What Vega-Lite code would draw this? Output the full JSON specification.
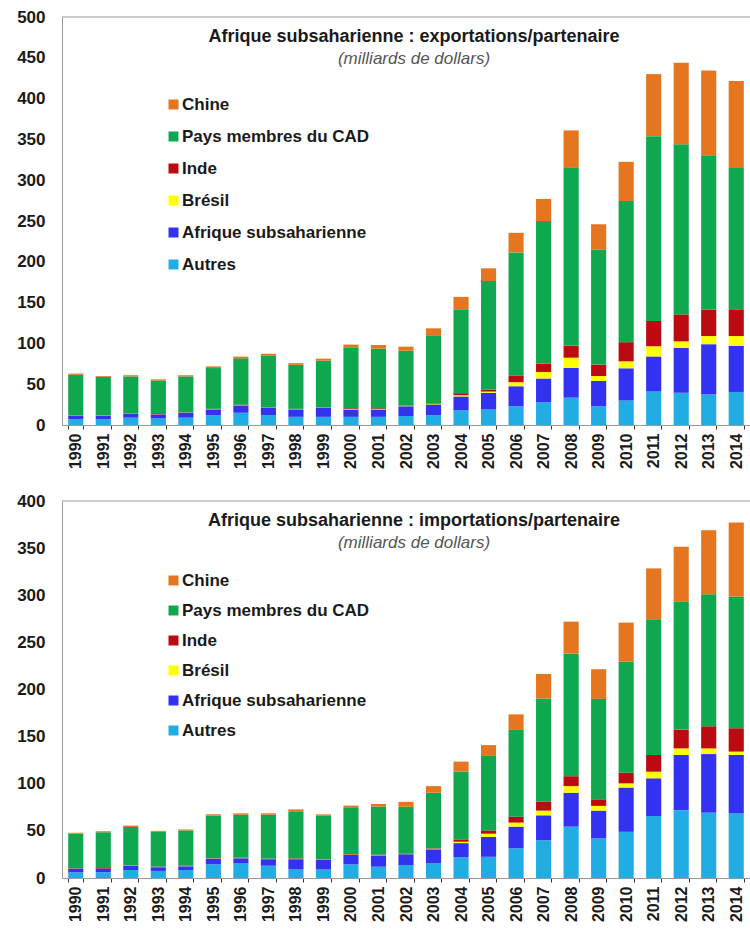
{
  "$schema": "https://vega.github.io/schema/vega-lite/v6.json",
  "padding": {"top": 8, "left": 16, "right": 0, "bottom": 4},
  "spacing": 23,
  "config": {
    "font": "Liberation Sans",
    "view": {"stroke": null},
    "axis": {"grid": false, "domainColor": "#999999", "labelColor": "#1a1a1a", "labelFontWeight": "bold", "title": null},
    "axisX": {"labelAngle": -90, "labelFontSize": 16, "tickBand": "extent", "ticks": true, "tickSize": 4, "tickColor": "#333333", "labelPadding": 4},
    "axisY": {"labelFontSize": 17, "ticks": false, "labelPadding": 17},
    "legend": {"orient": "none", "title": null, "symbolType": "square", "symbolSize": 100, "symbolStrokeWidth": 0, "labelFontSize": 17, "labelFontWeight": "bold", "labelColor": "#1a1a1a", "labelOffset": 0, "labelLimit": 400, "padding": 0},
    "title": {"frame": "group", "anchor": "middle", "fontSize": 18, "fontWeight": "bold", "color": "#1a1a1a", "subtitleFontSize": 17, "subtitleFontStyle": "italic", "subtitleColor": "#555555", "subtitlePadding": 5}
  },
  "datasets": {
    "rangs": [
      {"partenaire": "Autres", "rang": 1},
      {"partenaire": "Afrique subsaharienne", "rang": 2},
      {"partenaire": "Brésil", "rang": 3},
      {"partenaire": "Inde", "rang": 4},
      {"partenaire": "Pays membres du CAD", "rang": 5},
      {"partenaire": "Chine", "rang": 6}
    ],
    "exp": [
      {"annee": "1990", "Autres": 7, "Afrique subsaharienne": 4, "Brésil": 0.2, "Inde": 0.3, "Pays membres du CAD": 50, "Chine": 1.5},
      {"annee": "1991", "Autres": 7, "Afrique subsaharienne": 4, "Brésil": 0.2, "Inde": 0.3, "Pays membres du CAD": 47.5, "Chine": 1},
      {"annee": "1992", "Autres": 9, "Afrique subsaharienne": 5, "Brésil": 0.2, "Inde": 0.3, "Pays membres du CAD": 45, "Chine": 1.5},
      {"annee": "1993", "Autres": 8, "Afrique subsaharienne": 5, "Brésil": 0.2, "Inde": 0.3, "Pays membres du CAD": 41, "Chine": 1.5},
      {"annee": "1994", "Autres": 9, "Afrique subsaharienne": 6, "Brésil": 0.2, "Inde": 0.3, "Pays membres du CAD": 44, "Chine": 1.5},
      {"annee": "1995", "Autres": 12, "Afrique subsaharienne": 7, "Brésil": 0.3, "Inde": 0.5, "Pays membres du CAD": 50, "Chine": 2},
      {"annee": "1996", "Autres": 15, "Afrique subsaharienne": 9, "Brésil": 0.3, "Inde": 0.5, "Pays membres du CAD": 57, "Chine": 2},
      {"annee": "1997", "Autres": 12, "Afrique subsaharienne": 9, "Brésil": 0.3, "Inde": 0.5, "Pays membres du CAD": 63, "Chine": 2.5},
      {"annee": "1998", "Autres": 10, "Afrique subsaharienne": 9, "Brésil": 0.3, "Inde": 0.5, "Pays membres du CAD": 54, "Chine": 2},
      {"annee": "1999", "Autres": 10, "Afrique subsaharienne": 11, "Brésil": 0.3, "Inde": 0.5, "Pays membres du CAD": 57, "Chine": 2.5},
      {"annee": "2000", "Autres": 10, "Afrique subsaharienne": 9, "Brésil": 0.5, "Inde": 1, "Pays membres du CAD": 74, "Chine": 4},
      {"annee": "2001", "Autres": 10, "Afrique subsaharienne": 9, "Brésil": 0.5, "Inde": 1, "Pays membres du CAD": 73, "Chine": 4.5},
      {"annee": "2002", "Autres": 11, "Afrique subsaharienne": 12, "Brésil": 0.5, "Inde": 0.5, "Pays membres du CAD": 67, "Chine": 5},
      {"annee": "2003", "Autres": 12, "Afrique subsaharienne": 13, "Brésil": 0.5, "Inde": 0.5, "Pays membres du CAD": 84, "Chine": 8.5},
      {"annee": "2004", "Autres": 18, "Afrique subsaharienne": 17, "Brésil": 1.5, "Inde": 2.5, "Pays membres du CAD": 103, "Chine": 15},
      {"annee": "2005", "Autres": 19, "Afrique subsaharienne": 20.5, "Brésil": 1.5, "Inde": 2.5, "Pays membres du CAD": 133, "Chine": 15.5},
      {"annee": "2006", "Autres": 23, "Afrique subsaharienne": 24.5, "Brésil": 5, "Inde": 8, "Pays membres du CAD": 151, "Chine": 24},
      {"annee": "2007", "Autres": 28, "Afrique subsaharienne": 29, "Brésil": 8, "Inde": 10, "Pays membres du CAD": 175, "Chine": 27},
      {"annee": "2008", "Autres": 33.5, "Afrique subsaharienne": 36.5, "Brésil": 12.5, "Inde": 14.5, "Pays membres du CAD": 218, "Chine": 46},
      {"annee": "2009", "Autres": 23, "Afrique subsaharienne": 31, "Brésil": 6, "Inde": 14, "Pays membres du CAD": 141, "Chine": 31},
      {"annee": "2010", "Autres": 30, "Afrique subsaharienne": 39.5, "Brésil": 8.5, "Inde": 23.5, "Pays membres du CAD": 173, "Chine": 48},
      {"annee": "2011", "Autres": 41, "Afrique subsaharienne": 43, "Brésil": 12.5, "Inde": 31, "Pays membres du CAD": 226.5, "Chine": 76},
      {"annee": "2012", "Autres": 39.5, "Afrique subsaharienne": 55, "Brésil": 8, "Inde": 33, "Pays membres du CAD": 208.5, "Chine": 100},
      {"annee": "2013", "Autres": 37.5, "Afrique subsaharienne": 61.5, "Brésil": 10, "Inde": 32.5, "Pays membres du CAD": 189, "Chine": 104},
      {"annee": "2014", "Autres": 40.5, "Afrique subsaharienne": 56.5, "Brésil": 12, "Inde": 32, "Pays membres du CAD": 174, "Chine": 106.5}
    ],
    "imp": [
      {"annee": "1990", "Autres": 6, "Afrique subsaharienne": 4, "Brésil": 0.2, "Inde": 0.3, "Pays membres du CAD": 36.5, "Chine": 1},
      {"annee": "1991", "Autres": 6, "Afrique subsaharienne": 4, "Brésil": 0.2, "Inde": 0.3, "Pays membres du CAD": 38, "Chine": 1},
      {"annee": "1992", "Autres": 8.5, "Afrique subsaharienne": 4.5, "Brésil": 0.3, "Inde": 0.3, "Pays membres du CAD": 40.5, "Chine": 1.5},
      {"annee": "1993", "Autres": 7.5, "Afrique subsaharienne": 4, "Brésil": 0.2, "Inde": 0.3, "Pays membres du CAD": 37, "Chine": 1},
      {"annee": "1994", "Autres": 8.5, "Afrique subsaharienne": 4, "Brésil": 0.2, "Inde": 0.3, "Pays membres du CAD": 37.5, "Chine": 1},
      {"annee": "1995", "Autres": 14.5, "Afrique subsaharienne": 6, "Brésil": 0.3, "Inde": 0.3, "Pays membres du CAD": 45, "Chine": 1.5},
      {"annee": "1996", "Autres": 15.5, "Afrique subsaharienne": 5.5, "Brésil": 0.3, "Inde": 0.3, "Pays membres du CAD": 45.5, "Chine": 1.5},
      {"annee": "1997", "Autres": 13, "Afrique subsaharienne": 7, "Brésil": 0.3, "Inde": 0.3, "Pays membres du CAD": 46.5, "Chine": 1.5},
      {"annee": "1998", "Autres": 9, "Afrique subsaharienne": 11, "Brésil": 0.3, "Inde": 0.5, "Pays membres du CAD": 50, "Chine": 2},
      {"annee": "1999", "Autres": 9, "Afrique subsaharienne": 10.5, "Brésil": 0.3, "Inde": 0.4, "Pays membres du CAD": 45.8, "Chine": 1.5},
      {"annee": "2000", "Autres": 14.5, "Afrique subsaharienne": 10, "Brésil": 0.3, "Inde": 0.5, "Pays membres du CAD": 49, "Chine": 2.5},
      {"annee": "2001", "Autres": 12, "Afrique subsaharienne": 12, "Brésil": 0.3, "Inde": 0.5, "Pays membres du CAD": 51, "Chine": 2.7},
      {"annee": "2002", "Autres": 13.8, "Afrique subsaharienne": 11.5, "Brésil": 0.3, "Inde": 0.5, "Pays membres du CAD": 49.5, "Chine": 5.2},
      {"annee": "2003", "Autres": 15.5, "Afrique subsaharienne": 15, "Brésil": 0.5, "Inde": 0.5, "Pays membres du CAD": 59, "Chine": 7},
      {"annee": "2004", "Autres": 22, "Afrique subsaharienne": 15, "Brésil": 1.5, "Inde": 2.5, "Pays membres du CAD": 72, "Chine": 10.5},
      {"annee": "2005", "Autres": 22.5, "Afrique subsaharienne": 21, "Brésil": 3.5, "Inde": 3.5, "Pays membres du CAD": 79, "Chine": 11.5},
      {"annee": "2006", "Autres": 31.5, "Afrique subsaharienne": 23, "Brésil": 4.3, "Inde": 6.3, "Pays membres du CAD": 92, "Chine": 16.5},
      {"annee": "2007", "Autres": 40, "Afrique subsaharienne": 26.5, "Brésil": 5, "Inde": 9.5, "Pays membres du CAD": 109.5, "Chine": 26},
      {"annee": "2008", "Autres": 54.5, "Afrique subsaharienne": 36, "Brésil": 7, "Inde": 10.5, "Pays membres du CAD": 130, "Chine": 34},
      {"annee": "2009", "Autres": 42, "Afrique subsaharienne": 29.5, "Brésil": 5, "Inde": 7, "Pays membres du CAD": 106.5, "Chine": 31.5},
      {"annee": "2010", "Autres": 49, "Afrique subsaharienne": 47, "Brésil": 4.4, "Inde": 11.3, "Pays membres du CAD": 117.8, "Chine": 41.5},
      {"annee": "2011", "Autres": 65.8, "Afrique subsaharienne": 40, "Brésil": 7, "Inde": 17.7, "Pays membres du CAD": 144, "Chine": 54},
      {"annee": "2012", "Autres": 72, "Afrique subsaharienne": 58.5, "Brésil": 7, "Inde": 20, "Pays membres du CAD": 135.5, "Chine": 58.5},
      {"annee": "2013", "Autres": 69.3, "Afrique subsaharienne": 62.2, "Brésil": 6, "Inde": 23.5, "Pays membres du CAD": 140, "Chine": 68},
      {"annee": "2014", "Autres": 68.6, "Afrique subsaharienne": 62, "Brésil": 3.5, "Inde": 24.8, "Pays membres du CAD": 139.7, "Chine": 78.5}
    ]
  },
  "vconcat": [
    {
      "width": 688,
      "height": 408,
      "title": {"text": "Afrique subsaharienne : exportations/partenaire", "subtitle": "(milliards de dollars)", "offset": -59, "dx": 8},
      "layer": [
        {
          "data": {"name": "exp"},
          "transform": [
            {"fold": ["Autres", "Afrique subsaharienne", "Brésil", "Inde", "Pays membres du CAD", "Chine"], "as": ["partenaire", "valeur"]},
            {"lookup": "partenaire", "from": {"data": {"name": "rangs"}, "key": "partenaire", "fields": ["rang"]}}
          ],
          "mark": {"type": "bar"},
          "encoding": {
            "x": {"field": "annee", "type": "nominal", "scale": {"paddingInner": 0.45, "paddingOuter": 0.225}},
            "y": {"field": "valeur", "type": "quantitative", "stack": "zero", "scale": {"domain": [0, 500]}, "axis": {"values": [0, 50, 100, 150, 200, 250, 300, 350, 400, 450, 500]}},
            "order": {"field": "rang", "type": "quantitative", "sort": "ascending"},
            "color": {
              "field": "partenaire", "type": "nominal",
              "scale": {"domain": ["Chine", "Pays membres du CAD", "Inde", "Brésil", "Afrique subsaharienne", "Autres"], "range": ["#E5761F", "#0FA84F", "#BC0A12", "#FFFF00", "#3232F0", "#22ACE4"]},
              "legend": {"legendX": 103, "legendY": 79, "rowPadding": 14}
            }
          }
        },
        {
          "data": {"values": [{}]},
          "mark": {"type": "rule", "color": "#999999"},
          "encoding": {"y": {"datum": 500}}
        }
      ]
    },
    {
      "width": 688,
      "height": 377,
      "title": {"text": "Afrique subsaharienne : importations/partenaire", "subtitle": "(milliards de dollars)", "offset": -59, "dx": 8},
      "layer": [
        {
          "data": {"name": "imp"},
          "transform": [
            {"fold": ["Autres", "Afrique subsaharienne", "Brésil", "Inde", "Pays membres du CAD", "Chine"], "as": ["partenaire", "valeur"]},
            {"lookup": "partenaire", "from": {"data": {"name": "rangs"}, "key": "partenaire", "fields": ["rang"]}}
          ],
          "mark": {"type": "bar"},
          "encoding": {
            "x": {"field": "annee", "type": "nominal", "scale": {"paddingInner": 0.45, "paddingOuter": 0.225}},
            "y": {"field": "valeur", "type": "quantitative", "stack": "zero", "scale": {"domain": [0, 400]}, "axis": {"values": [0, 50, 100, 150, 200, 250, 300, 350, 400]}},
            "order": {"field": "rang", "type": "quantitative", "sort": "ascending"},
            "color": {
              "field": "partenaire", "type": "nominal",
              "scale": {"domain": ["Chine", "Pays membres du CAD", "Inde", "Brésil", "Afrique subsaharienne", "Autres"], "range": ["#E5761F", "#0FA84F", "#BC0A12", "#FFFF00", "#3232F0", "#22ACE4"]},
              "legend": {"legendX": 103, "legendY": 71, "rowPadding": 12}
            }
          }
        },
        {
          "data": {"values": [{}]},
          "mark": {"type": "rule", "color": "#999999"},
          "encoding": {"y": {"datum": 400}}
        }
      ]
    }
  ],
  "resolve": {"scale": {"color": "independent"}, "legend": {"color": "independent"}}
}
